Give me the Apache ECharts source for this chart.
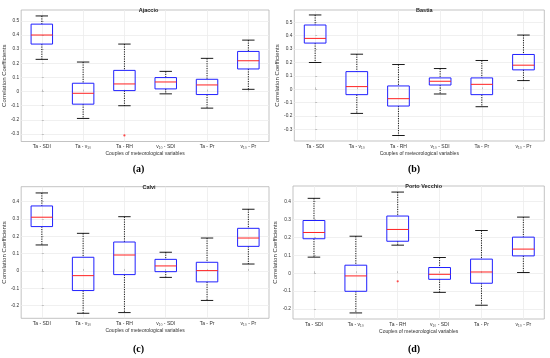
<!DOCTYPE html>
<html><head><meta charset="utf-8">
<script src="https://cdn.jsdelivr.net/npm/echarts@6/dist/echarts.min.js"></script>
<style>html,body{margin:0;padding:0;background:#fff}#c{width:550px;height:358px}</style>
</head><body><div id="c"></div>
<script>
// Categories (couples of meteorological variables)
const categories = ['Ta - SDI', 'Ta - v₁₀', 'Ta - RH', 'v₁₀ - SDI', 'Ta - Pr', 'v₁₀ - Pr'];
// Each box: [low whisker, Q1, median, Q3, high whisker]
const ajaccioBoxes = [
  [0.228, 0.336, 0.400, 0.477, 0.535],
  [-0.190, -0.089, -0.012, 0.059, 0.209],
  [-0.100, 0.007, 0.054, 0.150, 0.336],
  [-0.016, 0.019, 0.068, 0.099, 0.143],
  [-0.117, -0.021, 0.047, 0.087, 0.235],
  [0.016, 0.160, 0.218, 0.284, 0.364]
];
const ajaccioOutliers = [[2, -0.31]];
const bastiaBoxes = [
  [0.200, 0.345, 0.380, 0.480, 0.555],
  [-0.180, -0.040, 0.020, 0.132, 0.262],
  [-0.345, -0.125, -0.070, 0.025, 0.185],
  [-0.035, 0.032, 0.060, 0.085, 0.155],
  [-0.130, -0.040, 0.037, 0.085, 0.215],
  [0.065, 0.145, 0.180, 0.260, 0.405]
];
const bastiaOutliers = [];
const calviBoxes = [
  [0.150, 0.256, 0.310, 0.375, 0.450],
  [-0.244, -0.113, -0.027, 0.079, 0.217],
  [-0.240, -0.021, 0.092, 0.167, 0.313],
  [-0.037, -0.004, 0.029, 0.067, 0.108],
  [-0.170, -0.063, 0.002, 0.050, 0.190],
  [0.040, 0.142, 0.190, 0.246, 0.356]
];
const calviOutliers = [];
const portoVecchioBoxes = [
  [0.090, 0.193, 0.228, 0.295, 0.419],
  [-0.222, -0.101, -0.015, 0.045, 0.207],
  [0.157, 0.179, 0.245, 0.320, 0.454],
  [-0.107, -0.034, -0.006, 0.032, 0.088],
  [-0.179, -0.056, 0.007, 0.079, 0.239],
  [0.004, 0.097, 0.135, 0.202, 0.314]
];
const portoVecchioOutliers = [[2, -0.045]];
// Tick labels
const ticksA = [-0.3, -0.2, -0.1, 0, 0.1, 0.2, 0.3, 0.4, 0.5];
const ticksB = [-0.3, -0.2, -0.1, 0, 0.1, 0.2, 0.3, 0.4, 0.5];
const ticksC = [-0.2, -0.1, 0, 0.1, 0.2, 0.3, 0.4];
const ticksD = [-0.2, -0.1, 0, 0.1, 0.2, 0.3, 0.4];
const panelTitles = ['Ajaccio', 'Bastia', 'Calvi', 'Porto Vecchio'];
const panelLetters = ['(a)', '(b)', '(c)', '(d)'];
const yAxisName = 'Correlation Coefficients';
const xAxisName = 'Couples of meteorological variables';

const panels = [
  {boxes: ajaccioBoxes, outliers: ajaccioOutliers, ticks: ticksA, min: -0.353, max: 0.577,
   grid: {left: 18, top: 10, width: 251, height: 131.5}},
  {boxes: bastiaBoxes, outliers: bastiaOutliers, ticks: ticksB, min: -0.386, max: 0.592,
   grid: {left: 294.3, top: 10, width: 250, height: 131}},
  {boxes: calviBoxes, outliers: calviOutliers, ticks: ticksC, min: -0.273, max: 0.486,
   grid: {left: 19, top: 186.7, width: 250, height: 131.6}},
  {boxes: portoVecchioBoxes, outliers: portoVecchioOutliers, ticks: ticksD, min: -0.256, max: 0.488,
   grid: {left: 293, top: 186, width: 251.3, height: 133}}
];
const catIdx = categories.map((c, i) => i);
const FONT = '"Liberation Sans", Arial, sans-serif';
const BORDER = '#b4b4b4';
const GRIDC = '#ececec';

function renderBox(params, api) {
  const x = api.value(0);
  const lo = api.coord([x, api.value(1)]);
  const q1 = api.coord([x, api.value(2)]);
  const md = api.coord([x, api.value(3)]);
  const q3 = api.coord([x, api.value(4)]);
  const hi = api.coord([x, api.value(5)]);
  const hw = api.size([0.26, 0])[0];
  const cw = api.size([0.15, 0])[0];
  const cx = md[0];
  const dash = {stroke: '#000', lineWidth: 0.9, lineDash: [1.2, 1.2]};
  return {type: 'group', children: [
    {type: 'line', shape: {x1: cx, y1: hi[1], x2: cx, y2: q3[1]}, style: dash},
    {type: 'line', shape: {x1: cx, y1: q1[1], x2: cx, y2: lo[1]}, style: dash},
    {type: 'line', shape: {x1: cx - cw, y1: hi[1], x2: cx + cw, y2: hi[1]}, style: {stroke: '#000', lineWidth: 0.9}},
    {type: 'line', shape: {x1: cx - cw, y1: lo[1], x2: cx + cw, y2: lo[1]}, style: {stroke: '#000', lineWidth: 0.9}},
    {type: 'rect', shape: {x: cx - hw, y: q3[1], width: 2 * hw, height: q1[1] - q3[1]},
     style: {fill: 'none', stroke: '#2020ff', lineWidth: 1}},
    {type: 'line', shape: {x1: cx - hw, y1: md[1], x2: cx + hw, y2: md[1]}, style: {stroke: '#ff2020', lineWidth: 1}}
  ]};
}

const option = {
  animation: false,
  backgroundColor: '#fff',
  title: panels.map((p, i) => ({
    text: panelTitles[i],
    left: p.grid.left + p.grid.width / 2, top: p.grid.top - 7.5, textAlign: 'center',
    textStyle: {fontFamily: FONT, fontSize: 5.5, fontWeight: 'bold', color: '#222'}
  })),
  grid: panels.map(p => Object.assign({show: true, borderColor: BORDER, borderWidth: 0.8, containLabel: false}, p.grid)),
  xAxis: panels.map((p, i) => ({
    type: 'value', gridIndex: i, min: -0.5, max: 5.5,
    name: xAxisName, nameLocation: 'middle', nameGap: 10,
    nameTextStyle: {fontFamily: FONT, fontSize: 5, color: '#333'},
    axisLine: {show: false},
    axisTick: {show: true, inside: true, length: 2, customValues: catIdx, lineStyle: {color: BORDER, width: 0.8}},
    axisLabel: {customValues: catIdx, formatter: v => categories[Math.round(v)], margin: 3,
      fontFamily: FONT, fontSize: 5, color: '#333'},
    splitLine: {show: true, lineStyle: {color: GRIDC, width: 0.8}}
  })),
  yAxis: panels.map((p, i) => ({
    type: 'value', gridIndex: i, min: p.min, max: p.max,
    name: yAxisName, nameLocation: 'middle', nameGap: 10,
    nameTextStyle: {fontFamily: FONT, fontSize: 6, color: '#333'},
    axisLine: {show: false},
    axisTick: {show: true, inside: true, length: 2, customValues: p.ticks, lineStyle: {color: BORDER, width: 0.8}},
    axisLabel: {customValues: p.ticks, margin: 2, fontFamily: FONT, fontSize: 4.8, color: '#333',
      formatter: v => String(Math.round(v * 10) / 10)},
    splitLine: {show: true, lineStyle: {color: GRIDC, width: 0.8}}
  })),
  series: panels.flatMap((p, i) => [
    {type: 'custom', xAxisIndex: i, yAxisIndex: i, renderItem: renderBox,
     encode: {x: 0, y: [1, 2, 3, 4, 5]},
     data: p.boxes.map((b, j) => [j].concat(b))},
    {type: 'scatter', xAxisIndex: i, yAxisIndex: i, symbol: 'circle', symbolSize: 2.2,
     itemStyle: {color: '#ff2020'}, data: p.outliers}
  ]),
  graphic: panels.map((p, i) => ({
    type: 'text', x: (i % 2 === 0 ? 138.5 : 414), y: (i < 2 ? 169 : 349.3),
    style: {text: panelLetters[i], font: 'bold 10px "Liberation Serif", "Times New Roman", serif',
      fill: '#000', align: 'center', verticalAlign: 'middle'}
  }))
};
const chart = echarts.init(document.getElementById('c'), null, {renderer: 'canvas'});
chart.setOption(option);
</script>
</body></html>
